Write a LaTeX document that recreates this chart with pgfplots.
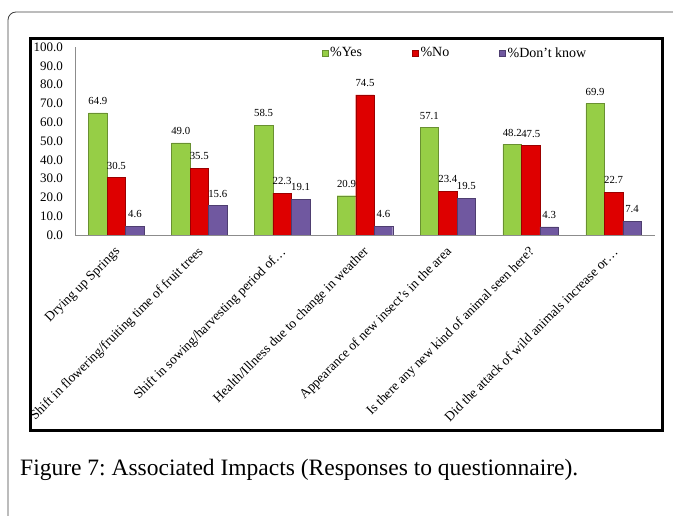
\documentclass[border=0pt]{standalone}
\usepackage{fontspec}
\setmainfont{Liberation Serif}
\usepackage{pgfplots}
\pgfplotsset{compat=1.18}
\definecolor{cyes}{RGB}{150,206,70}
\definecolor{cno}{RGB}{222,0,0}
\definecolor{cdk}{RGB}{112,88,160}
\begin{document}
\frenchspacing
\begin{tikzpicture}
\useasboundingbox (0,0) rectangle (673bp,516bp);
\draw[black!75, line width=0.8bp] (8bp,0bp) -- (8bp,496bp) arc[start angle=180,end angle=90,radius=8bp] -- (673bp,504bp);
\draw[line width=3bp] (30bp,85bp) rectangle (662bp,477bp);
\begin{axis}[
  at={(75bp,281bp)}, anchor=south west,
  scale only axis, width=580bp, height=188bp,
  ymin=0, ymax=100, xmin=-0.5, xmax=6.5,
  ybar=0pt, bar width=18.5bp,
  axis x line=bottom, axis y line=left,
  axis line style={draw=black!45, line width=0.8bp, -},
  major tick length=0pt,
  /pgf/number format/assume math mode=true,
  ytick={0,10,...,100},
  yticklabel style={font=\fontsize{13bp}{15bp}\selectfont, inner sep=0pt, xshift=-12bp,
     /pgf/number format/.cd, fixed, fixed zerofill, precision=1},
  xtick={0,...,6},
  xticklabels={Drying up Springs, Shift in flowering/fruiting time of fruit trees, Shift in sowing/harvesting period of…, Health/Illness due to change in weather, Appearance of new insect’s in the area, Is there any new kind of animal seen here?, Did the attack of wild animals increase or…},
  xticklabel style={xshift=2bp, yshift=-15bp, rotate=45, anchor=east, inner sep=0pt, font=\fontsize{13.5bp}{16bp}\selectfont},
  nodes near coords,
  every node near coord/.append style={font=\fontsize{10.8bp}{13bp}\selectfont, anchor=south, inner sep=0pt, yshift=8bp, text=black,
     /pgf/number format/.cd, fixed, fixed zerofill, precision=1},
  legend columns=3,
  legend style={at={(0.425,0.968)}, anchor=west, draw=none, fill=none, inner sep=0pt,
     font=\fontsize{14bp}{16bp}\selectfont,
     /tikz/every even column/.append style={column sep=48bp}},
  every axis plot post/.append style={legend image code/.code={\draw[##1] (0bp,-3bp) rectangle (6bp,3bp);}},
]
\addplot[fill=cyes, draw=cyes!70!black] coordinates {(0,64.9) (1,49.0) (2,58.5) (3,20.9) (4,57.1) (5,48.2) (6,69.9)};
\addplot[fill=cno, draw=cno!70!black] coordinates {(0,30.5) (1,35.5) (2,22.3) (3,74.5) (4,23.4) (5,47.5) (6,22.7)};
\addplot[fill=cdk, draw=cdk!70!black] coordinates {(0,4.6) (1,15.6) (2,19.1) (3,4.6) (4,19.5) (5,4.3) (6,7.4)};
\legend{\%Yes, \%No, \%Don’t know}
\end{axis}
\node[anchor=base west, inner sep=0pt, font=\fontsize{23.5bp}{28bp}\selectfont] at (20bp,40bp) {Figure 7: Associated Impacts (Responses to questionnaire).};
\end{tikzpicture}
\end{document}
